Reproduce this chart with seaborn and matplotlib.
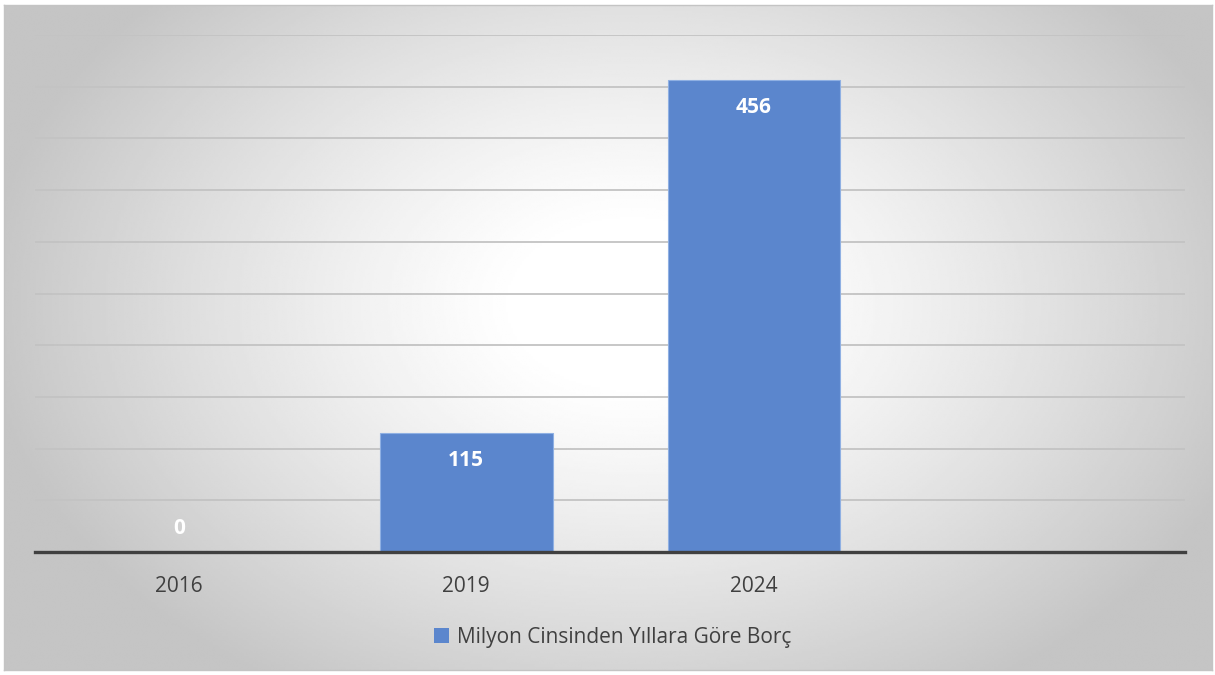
import numpy as np
import pandas as pd
import seaborn as sns
import matplotlib.pyplot as plt
from matplotlib.patches import Patch

# data
years = ["2016", "2019", "2024"]
debt = [0, 115, 456]
series_name = "Milyon Cinsinden Yıllara Göre Borç"

BAR_COLOR = "#5b86cd"
TEXT_COLOR = "#404040"

sns.set_theme(style="white")
plt.rcParams["font.family"] = ["Open Sans", "DejaVu Sans"]

df = pd.DataFrame({"Yıl": years, "Borç": debt})

W, H = 1215, 675
fig = plt.figure(figsize=(W / 100, H / 100), dpi=100)
fig.patch.set_facecolor("white")

# radial gradient background of the chart area
bg = fig.add_axes([4 / W, 1 - 670 / H, (1212 - 4) / W, (670 - 5) / H])
yy, xx = np.mgrid[0:1:300j, 0:1:540j]
r = np.sqrt(((xx - 0.52) / 0.75) ** 2 + ((yy - 0.45) / 0.95) ** 2)
shade = 1.0 - 0.23 * np.clip((r - 0.12) / 0.6, 0, 1) ** 1.2
bg.imshow(shade, cmap="gray", vmin=0, vmax=1, aspect="auto",
          extent=[0, 1, 1, 0], interpolation="bilinear")
bg.set_xticks([])
bg.set_yticks([])
for s in bg.spines.values():
    s.set_color("#c4c4c4")
    s.set_linewidth(1.0)

ax = fig.add_axes([35 / W, 1 - 552 / H, (1185 - 35) / W, (552 - 35) / H])
ax.set_facecolor("none")
sns.barplot(data=df, x="Yıl", y="Borç", color=BAR_COLOR, width=0.6,
            saturation=1, edgecolor="#8fb0e3", linewidth=0.8, ax=ax, zorder=3)
ax.set_xlim(-0.5, 3.5)
ax.set_ylim(0, 500)
ax.set_yticks(np.arange(0, 501, 50))
ax.yaxis.grid(True, color="#c3c3c3", linewidth=1.3, zorder=0)
ax.set_axisbelow(True)
ax.tick_params(axis="y", left=False, labelleft=False)
ax.tick_params(axis="x", length=0, pad=17, labelsize=15, labelcolor=TEXT_COLOR)
ax.set_xlabel("")
ax.set_ylabel("")
for side in ["top", "right", "left"]:
    ax.spines[side].set_visible(False)
ax.spines["bottom"].set_color(TEXT_COLOR)
ax.spines["bottom"].set_linewidth(2.4)
ax.spines["bottom"].set_zorder(5)

for i, v in enumerate(debt):
    off = -19.5 if v > 0 else 17
    ax.annotate(str(v), (i, v), xytext=(0, off), textcoords="offset points",
                ha="center", va="center", color="white", fontsize=15,
                fontweight="bold", zorder=6)

fig.legend(handles=[Patch(facecolor=BAR_COLOR, edgecolor="none", label=series_name)],
           loc="center", bbox_to_anchor=(613 / W, 1 - 637 / H), frameon=False,
           handlelength=0.7, handleheight=0.7, handletextpad=0.4,
           fontsize=15, labelcolor=TEXT_COLOR)

fig.savefig("out.png", dpi=100)
